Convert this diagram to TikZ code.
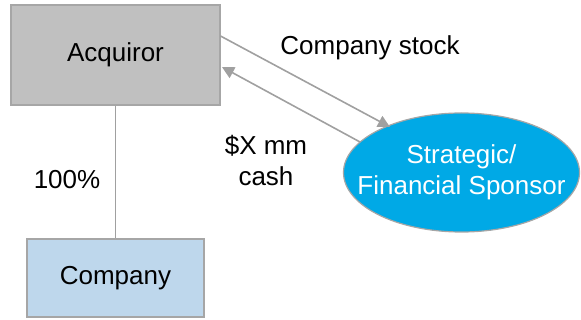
\documentclass[tikz,border=0pt]{standalone}
\usepackage{fontspec}
\setmainfont{Liberation Sans}
\usetikzlibrary{shapes.geometric,arrows.meta}
\definecolor{boxgray}{RGB}{192,192,192}
\definecolor{edgegray}{RGB}{166,166,166}
\definecolor{lineg}{RGB}{160,160,160}
\definecolor{compblue}{RGB}{190,215,236}
\definecolor{sponsor}{RGB}{0,169,230}
\tikzset{
  lbl/.style={font=\fontsize{26}{31}\selectfont, align=center, inner sep=0pt},
  boxnode/.style={draw=edgegray, line width=1.2pt, lbl},
  conn/.style={draw=lineg, line width=1.6pt},
  arr/.style={conn, -{Triangle[length=12pt,width=12pt]}}
}
\begin{document}
\begin{tikzpicture}[x=1pt,y=-1pt]
\useasboundingbox (0,0) rectangle (581,320);
\node[boxnode, fill=boxgray, minimum width=209pt, minimum height=100pt] (acq) at (115.5,55) {Acquiror};
\node[boxnode, fill=compblue, minimum width=177pt, minimum height=78pt] (comp) at (115.5,278) {Company};
\node[ellipse, draw=edgegray, line width=1.2pt, fill=sponsor, inner sep=0pt, minimum width=236pt, minimum height=119pt] (sp) at (461.5,172.5) {};
\node[lbl, text=white] (sptext) at (sp.center) {Strategic/\\Financial Sponsor};
\coordinate (a1s) at (220.5,36);
\coordinate (a1e) at (390,127);
\coordinate (a2s) at (360,142);
\coordinate (a2e) at (222,67);
\draw[conn] (acq.south) -- (comp.north);
\draw[arr] (a1s) -- (a1e);
\draw[arr] (a2s) -- (a2e);
\node[lbl] (stock) at (370,48) {Company stock};
\node[lbl] (cash) at (266,161) {\$X mm\\cash};
\node[lbl] (pct) at (67,180) {100\%};
\end{tikzpicture}
\end{document}
